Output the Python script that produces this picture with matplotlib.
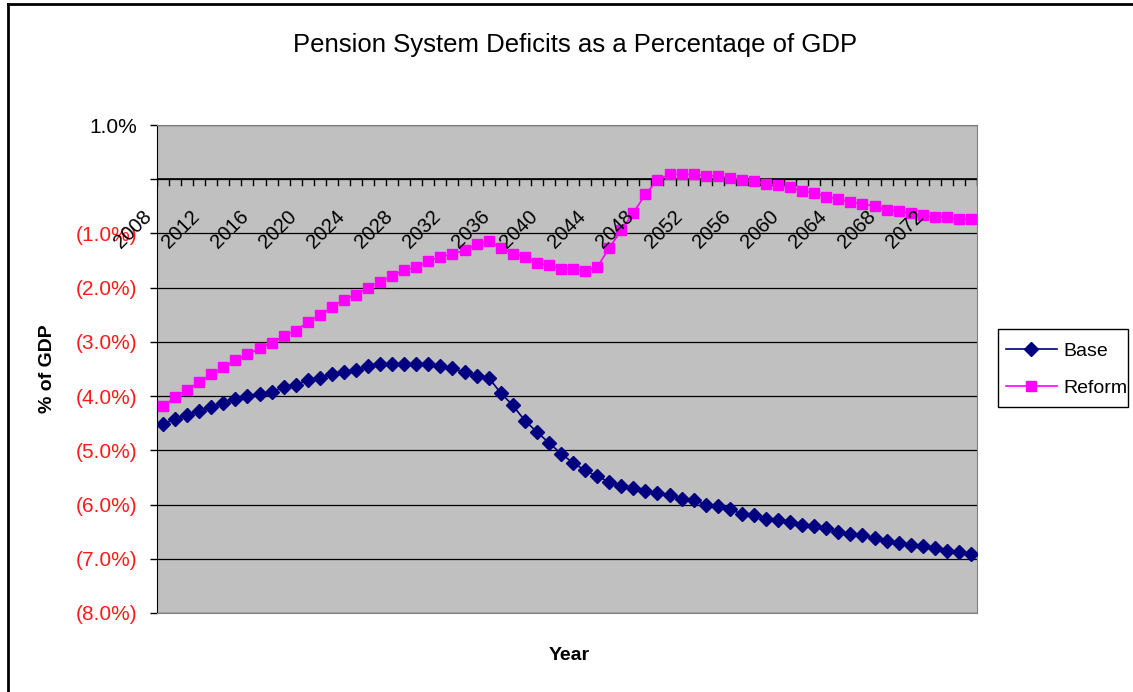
import numpy as np
import matplotlib
matplotlib.use('Agg')
import matplotlib.pyplot as plt
from matplotlib.lines import Line2D
from matplotlib.patches import Rectangle
from matplotlib.transforms import ScaledTranslation

plt.rcParams['font.family'] = ['Liberation Sans', 'DejaVu Sans']

# ── Data (% of GDP) ───────────────────────────────────────────────────────────
years = list(range(2008, 2076))

base = [-4.52, -4.42, -4.35, -4.27, -4.21, -4.13, -4.06, -4.00, -3.97, -3.93,
        -3.83, -3.80, -3.70, -3.67, -3.59, -3.56, -3.52, -3.45, -3.41, -3.41,
        -3.41, -3.41, -3.41, -3.45, -3.49, -3.56, -3.63, -3.66, -3.94, -4.17,
        -4.45, -4.66, -4.86, -5.06, -5.23, -5.37, -5.48, -5.58, -5.66, -5.69,
        -5.75, -5.78, -5.83, -5.89, -5.92, -6.00, -6.03, -6.09, -6.17, -6.20,
        -6.26, -6.29, -6.33, -6.37, -6.40, -6.43, -6.51, -6.54, -6.57, -6.61,
        -6.67, -6.71, -6.74, -6.77, -6.81, -6.85, -6.88, -6.91]

reform = [-4.19, -4.02, -3.88, -3.74, -3.60, -3.47, -3.34, -3.23, -3.12, -3.02,
          -2.89, -2.79, -2.64, -2.50, -2.36, -2.22, -2.13, -2.00, -1.89, -1.78,
          -1.68, -1.62, -1.51, -1.43, -1.38, -1.31, -1.20, -1.14, -1.27, -1.37,
          -1.43, -1.54, -1.59, -1.65, -1.65, -1.69, -1.62, -1.27, -0.94, -0.62,
          -0.28, -0.01, 0.09, 0.09, 0.09, 0.06, 0.06, 0.02, -0.01, -0.04,
          -0.08, -0.11, -0.15, -0.22, -0.25, -0.33, -0.36, -0.42, -0.45, -0.50,
          -0.56, -0.59, -0.63, -0.66, -0.70, -0.70, -0.74, -0.74]

y_ticks = [1, 0, -1, -2, -3, -4, -5, -6, -7, -8]
year_labels = years[::4]

# ── Figure ────────────────────────────────────────────────────────────────────
W, H = 1133, 692
fig = plt.figure(figsize=(W / 100, H / 100), dpi=100)
fig.patch.set_facecolor('white')

L, R, T, B = 157, 977, 125, 613
ax = fig.add_axes([L / W, 1 - B / H, (R - L) / W, (B - T) / H])
ax.set_facecolor('#c0c0c0')

x = np.arange(len(years))
ax.plot(x, base, color='#000080', marker='D', markersize=7.5, linewidth=1.2,
        label='Base', zorder=4)
ax.plot(x, reform, color='#ff00ff', marker='s', markersize=7.5, linewidth=1.2,
        label='Reform', zorder=3)

ax.set_xlim(-0.5, len(years) - 0.5)
ax.set_ylim(-8, 1)

# y axis
ax.set_yticks(y_ticks)
ylabels = []
for v in y_ticks:
    if v > 0:
        ylabels.append(f'{v:.1f}%')
    elif v == 0:
        ylabels.append('')
    else:
        ylabels.append(f'({abs(v):.1f}%)')
ax.set_yticklabels(ylabels, fontsize=15)
for t, v in zip(ax.get_yticklabels(), y_ticks):
    t.set_color('black' if v >= 0 else '#ff1a1a')
ax.tick_params(axis='y', direction='out', length=5, width=1, pad=9, color='black')
ax.grid(axis='y', color='black', linewidth=0.9, zorder=1)
ax.set_axisbelow(True)

# x axis drawn at y=0 with category-boundary ticks
ax.set_xticks([])
ax.axhline(0, color='black', linewidth=1.2, zorder=2)
for b in np.arange(-0.5, len(years), 1.0):
    ax.plot([b, b], [0, -0.11], color='black', linewidth=1, zorder=2)

off = ScaledTranslation(-21 / 100, -28 / 100, fig.dpi_scale_trans)
for i, yr in enumerate(years):
    if yr in year_labels:
        ax.text(i, 0, str(yr), transform=ax.transData + off, rotation=45,
                rotation_mode='anchor', ha='right', va='top', fontsize=14.5,
                zorder=5)

for side in ['top', 'right', 'bottom']:
    ax.spines[side].set_color('#808080')
ax.spines['left'].set_color('black')

fig.text(48 / W, 1 - 369 / H, '% of GDP', fontsize=14, fontweight='bold',
         rotation=90, ha='center', va='center')
fig.text(569 / W, 1 - 655 / H, 'Year', fontsize=14, fontweight='bold',
         ha='center', va='center')
fig.text(575 / W, 1 - 45 / H, 'Pension System Deficits as a Percentaqe of GDP',
         fontsize=18.5, ha='center', va='center')

# legend: text without frame, box drawn separately (Excel-style tight box)
fig.legend(loc='upper left', bbox_to_anchor=(1006 / W, 1 - 342 / H),
           fontsize=14, frameon=False, handlelength=2.6, borderpad=0,
           labelspacing=1.0, handletextpad=0.35, borderaxespad=0)
fig.add_artist(Rectangle((998 / W, 1 - 407 / H), 130 / W, 78 / H,
                         transform=fig.transFigure, fill=False,
                         edgecolor='black', linewidth=1.0))

# chart border (left and top edges visible)
fig.add_artist(Line2D([8 / W, 8 / W], [0, 1 - 4 / H], color='black',
                      linewidth=2, transform=fig.transFigure))
fig.add_artist(Line2D([8 / W, 1], [1 - 4 / H, 1 - 4 / H], color='black',
                      linewidth=2, transform=fig.transFigure))

plt.savefig('out.png', dpi=100, facecolor=fig.get_facecolor())
plt.close()
